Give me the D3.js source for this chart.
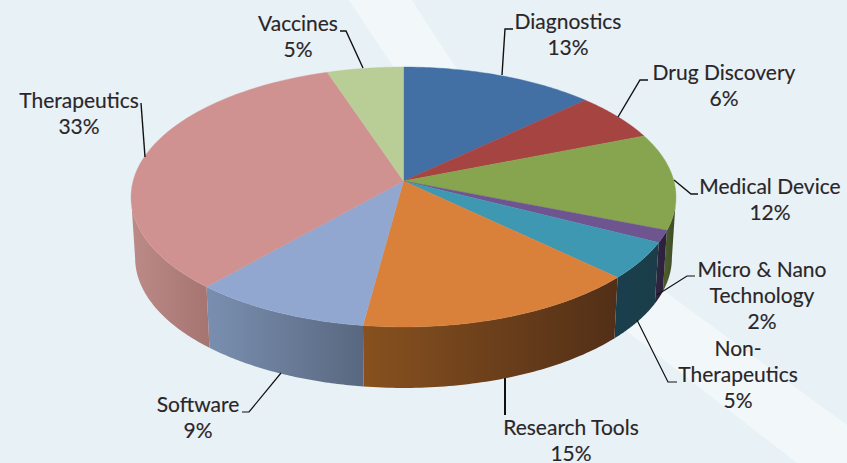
<!DOCTYPE html>
<html>
<head>
<meta charset="utf-8">
<style>
html, body { margin: 0; padding: 0; background: #e8f1f6; }
svg { display: block; }
text { font-family: Lato, "Open Sans", sans-serif; font-size: 21px; fill: #2a2628; stroke: #2a2628; stroke-width: 0.15; text-anchor: middle; }
</style>
</head>
<body>
<svg width="847" height="463"></svg>
<script src="https://cdnjs.cloudflare.com/ajax/libs/d3/7.8.5/d3.min.js"></script>
<script>
var categories = ['Diagnostics', 'Drug Discovery', 'Medical Device', 'Micro & Nano Technology', 'Non-Therapeutics', 'Research Tools', 'Software', 'Therapeutics', 'Vaccines'];
// the labels show these rounded
var values = [13, 6, 12, 1.5, 4.6, 15, 9.4, 33.4, 5.1];
var topColors = ['#4270a5', '#a64442', '#87a44f', '#6f5590', '#3f98b1', '#d9803a', '#92a7cf', '#cf9291', '#b9cd96'];
var wallLeft = ['#2e4d72', '#732f2e', '#4a5a2c', '#2e2440', '#1a3f4c', '#87511f', '#7a8fb0', '#bc8a87', '#7d8c66'];
var wallRight = ['#2e4d72', '#732f2e', '#3c4826', '#2a2038', '#1a3d49', '#522f17', '#596880', '#a67572', '#7d8c66'];

// label text lines, and the leader line for each label
var labelLines = [['Diagnostics'], ['Drug Discovery'], ['Medical Device'], ['Micro & Nano', 'Technology'], ['Non-', 'Therapeutics'], ['Research Tools'], ['Software'], ['Therapeutics'], ['Vaccines']];
var labelX = [568, 724, 770, 762, 738, 571, 198, 79, 298];
var labelY = [29, 80, 194, 277, 356, 435, 412, 108, 31];
var leaders = [
  [[513, 29], [505, 29], [502, 75]],
  [[648, 80], [640, 80], [618, 117]],
  [[698, 194], [691, 194], [674, 180]],
  [[695, 276], [687, 276], [657, 295]],
  [[677, 382], [668, 382], [637, 320]],
  [[505, 415], [505, 378]],
  [[242, 412], [249, 412], [281, 373]],
  [[141, 103], [145, 157]],
  [[340, 31], [346, 31], [363, 68]]
];
var leaderWidth = [1.4, 1.4, 1.4, 1.2, 1.2, 2, 1.2, 1.4, 1.4];

var depth = 61;
var bottomShrink = 0.985; // lower rim is a bit further from the viewer
var persp = 0.123;

var cx = 403.5, cy = 181;
var xScale = d3.scaleLinear().domain([-1, 1]).range([cx - 270.4, cx + 270.4]);
var yScale = d3.scaleLinear().domain([-1, 1]).range([cy - 128, cy + 128]);

// angle on the pie to a point on the tilted rim, near side drawn larger
function rim(a) {
  var u = Math.sin(a), v = -Math.cos(a), w = 1 - persp * v;
  return [xScale(u / w), yScale(v / w)];
}
function lowerRim(a) {
  var p = rim(a);
  return [cx + (p[0] - cx) * bottomShrink, p[1] + depth];
}
function arcAngles(a0, a1) {
  return d3.range(0, 61).map(function(i) { return a0 + (a1 - a0) * i / 60; });
}

var svg = d3.select('svg');
var defs = svg.append('defs');

// pale band behind the pie
svg.append('path')
  .attr('d', 'M349,0 L412,0 C480,110 560,210 663,290 L847,425 L847,463 L797,463 L628,332 C530,260 430,125 349,0 Z')
  .attr('fill', '#f2f7fa');

var pie = d3.pie().sort(null).startAngle(0).endAngle(2 * Math.PI);
var slices = pie(values);
var line = d3.line();

// side wall, only the part of the rim that faces the viewer
var wallStart = Math.acos(-persp);
var wallEnd = 2 * Math.PI - wallStart;
slices.forEach(function(d, i) {
  if (d.endAngle <= wallStart || d.startAngle >= wallEnd) return;
  var a0 = Math.max(d.startAngle, wallStart);
  var a1 = Math.min(d.endAngle, wallEnd);
  var x0 = rim(a0)[0], x1 = rim(a1)[0];
  var grad = defs.append('linearGradient')
    .attr('id', 'wall' + i)
    .attr('gradientUnits', 'userSpaceOnUse')
    .attr('x1', Math.min(x0, x1)).attr('x2', Math.max(x0, x1))
    .attr('y1', 0).attr('y2', 0);
  grad.append('stop').attr('offset', 0).attr('stop-color', wallLeft[i]);
  grad.append('stop').attr('offset', 1).attr('stop-color', wallRight[i]);
  var angles = arcAngles(a0, a1);
  var pts = angles.map(rim).concat(angles.slice().reverse().map(lowerRim));
  svg.append('path')
    .attr('d', line(pts) + 'Z')
    .attr('fill', 'url(#wall' + i + ')');
});

// top face
slices.forEach(function(d, i) {
  var pts = [[cx, cy]].concat(arcAngles(d.startAngle, d.endAngle).map(rim));
  svg.append('path')
    .attr('d', line(pts) + 'Z')
    .attr('fill', topColors[i])
    .attr('stroke', topColors[i])
    .attr('stroke-width', 0.4);
});

// leader lines
leaders.forEach(function(pts, i) {
  svg.append('path')
    .attr('d', line(pts))
    .attr('fill', 'none')
    .attr('stroke', '#111')
    .attr('stroke-width', leaderWidth[i]);
});

// labels
categories.forEach(function(c, i) {
  var rows = labelLines[i].concat([Math.round(values[i]) + '%']);
  var t = svg.append('text').attr('x', labelX[i]).attr('y', labelY[i]);
  rows.forEach(function(s, j) {
    t.append('tspan')
      .attr('x', labelX[i])
      .attr('y', labelY[i] + j * 26)
      .text(s);
  });
});
</script>
</body>
</html>
